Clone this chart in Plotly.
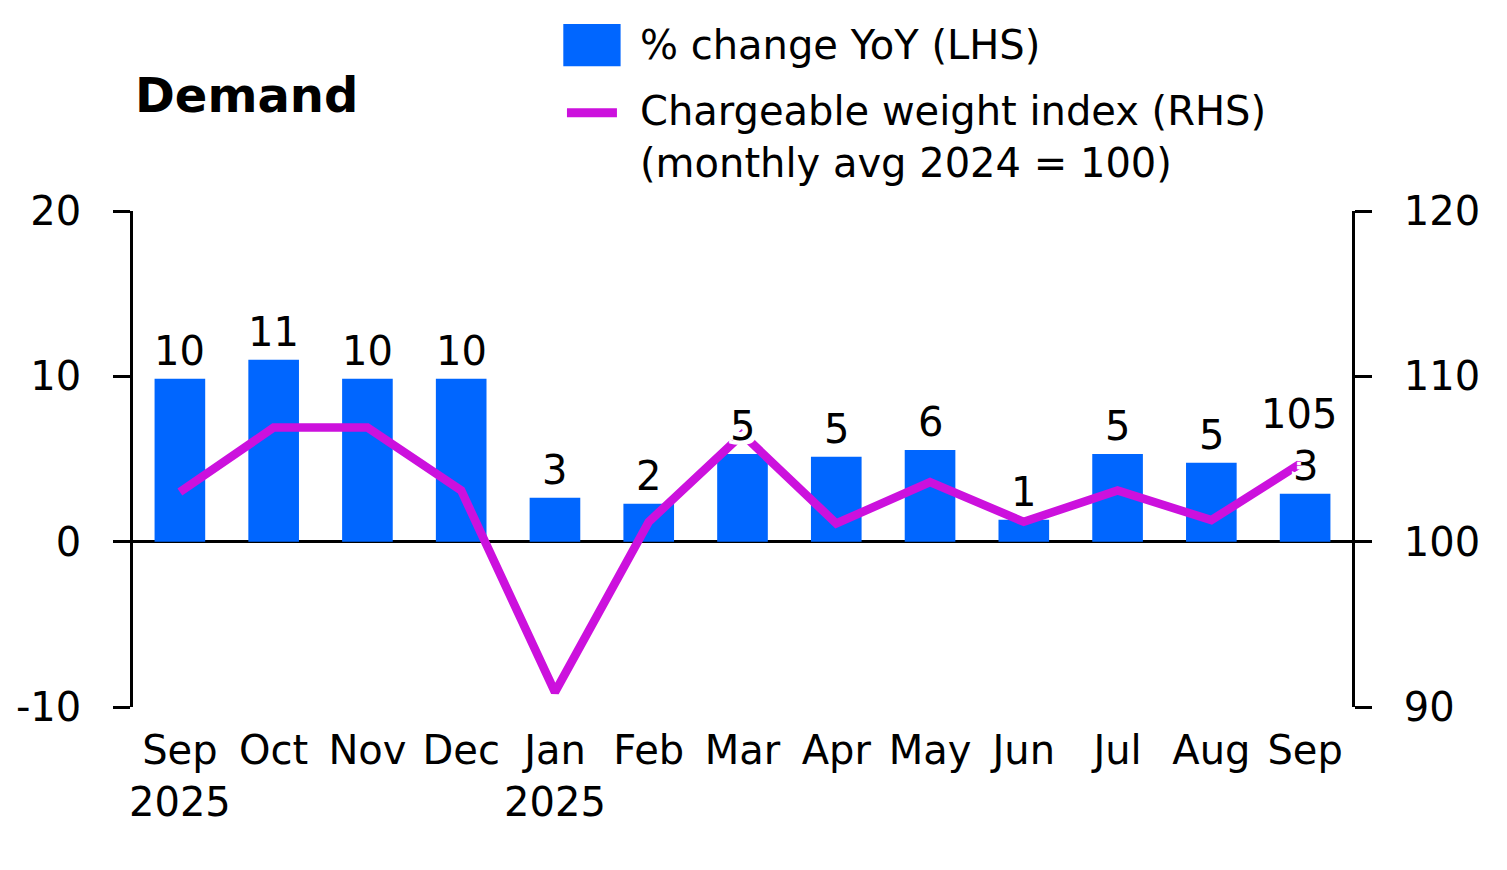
import plotly.graph_objects as go

# ---- data ----
months = ["Sep", "Oct", "Nov", "Dec", "Jan", "Feb", "Mar", "Apr", "May", "Jun", "Jul", "Aug", "Sep"]
tick_labels = ["Sep<br>2025", "Oct", "Nov", "Dec", "Jan<br>2025", "Feb", "Mar", "Apr", "May", "Jun", "Jul", "Aug", "Sep"]
yoy_change = [9.85, 11.0, 9.85, 9.85, 2.66, 2.3, 5.3, 5.14, 5.55, 1.33, 5.3, 4.77, 2.9]
yoy_labels = ["10", "11", "10", "10", "3", "2", "5", "5", "6", "1", "5", "5", "3"]
cw_index = [103.0, 106.9, 106.9, 103.1, 90.9, 101.2, 106.5, 101.1, 103.6, 101.2, 103.1, 101.3, 104.9]
last_index_label = "105"

y_left_ticks = [-10, 0, 10, 20]
y_left_text = ["-10", "0", "10", "20"]
y_right_ticks = [90, 100, 110, 120]

title_text = "Demand"
legend_bar = "% change YoY (LHS)"
legend_line = "Chargeable weight index (RHS)<br>(monthly avg 2024 = 100)"

BLUE = "#0066FF"
MAGENTA = "#CC11DD"
FONT = "DejaVu Sans"
FS = 40

x = list(range(len(months)))

fig = go.Figure()
fig.add_trace(go.Bar(x=x, y=yoy_change, marker=dict(color=BLUE, line=dict(width=0)),
                     width=0.54, yaxis="y", showlegend=False, hoverinfo="skip"))
fig.add_trace(go.Scatter(x=x, y=cw_index, mode="lines", yaxis="y2",
                         line=dict(color=MAGENTA, width=8.5), showlegend=False, hoverinfo="skip"))

halo = ", ".join(f"{dx}px {dy}px 0px white" for dx in (-4, 0, 4) for dy in (-4, 0, 4) if (dx, dy) != (0, 0))

annotations = []
for xi, v, lab in zip(x, yoy_change, yoy_labels):
    annotations.append(dict(x=xi, y=v, xref="x", yref="y", text=lab, showarrow=False,
                            yanchor="bottom", yshift=3,
                            font=dict(family=FONT, size=FS, color="black", shadow=halo)))
annotations.append(dict(x=x[-1], y=cw_index[-1], xref="x", yref="y2", text=last_index_label,
                        showarrow=False, yanchor="bottom", yshift=22, xshift=-6,
                        font=dict(family=FONT, size=FS, color="black", shadow=halo)))
# title & legend
annotations.append(dict(x=0, y=1.234, xref="paper", yref="paper", text=f"<b>{title_text}</b>",
                        showarrow=False, xanchor="left", yanchor="middle",
                        font=dict(family=FONT, size=48, color="black")))
annotations.append(dict(x=0.414, y=1.335, xref="paper", yref="paper", text=legend_bar,
                        showarrow=False, xanchor="left", yanchor="middle",
                        font=dict(family=FONT, size=FS, color="black")))
annotations.append(dict(x=0.414, y=1.149, xref="paper", yref="paper", text=legend_line,
                        showarrow=False, xanchor="left", yanchor="middle", align="left",
                        font=dict(family=FONT, size=FS, color="black")))

shapes = [
    dict(type="rect", xref="paper", yref="paper", x0=0.353, x1=0.400, y0=1.292, y1=1.377,
         fillcolor=BLUE, line=dict(width=0)),
    dict(type="line", xref="paper", yref="paper", x0=0.356, x1=0.397, y0=1.198, y1=1.198,
         line=dict(color=MAGENTA, width=9)),
]

# the page body has an 8px default margin, so the margins are shifted by 8px
fig.update_layout(
    width=1507, height=870,
    margin=dict(l=125, r=163, t=203, b=171, autoexpand=False),
    paper_bgcolor="white", plot_bgcolor="white",
    font=dict(family=FONT, size=FS, color="black"),
    showlegend=False,
    annotations=annotations,
    shapes=shapes,
    xaxis=dict(tickmode="array", tickvals=x, ticktext=tick_labels, range=[-0.5, 12.5],
               showgrid=False, showline=False, zeroline=False, ticks="", automargin=False,
               tickfont=dict(family=FONT, size=FS), ticklabelstandoff=16),
    yaxis=dict(range=[-10, 20], tickvals=y_left_ticks, ticktext=y_left_text, showgrid=False,
               zeroline=True, automargin=False,
               zerolinecolor="black", zerolinewidth=2.5, showline=True, linecolor="black",
               linewidth=2.5, ticks="outside", ticklen=17, tickwidth=2.5, tickcolor="black",
               tickfont=dict(family=FONT, size=FS), ticklabelstandoff=24),
    yaxis2=dict(range=[90, 120], tickvals=y_right_ticks, overlaying="y", side="right",
                showgrid=False, zeroline=False, showline=True, linecolor="black", automargin=False,
                linewidth=2.5, ticks="outside", ticklen=17, tickwidth=2.5, tickcolor="black",
                tickfont=dict(family=FONT, size=FS), ticklabelstandoff=24),
)

fig.write_html("out.html")
